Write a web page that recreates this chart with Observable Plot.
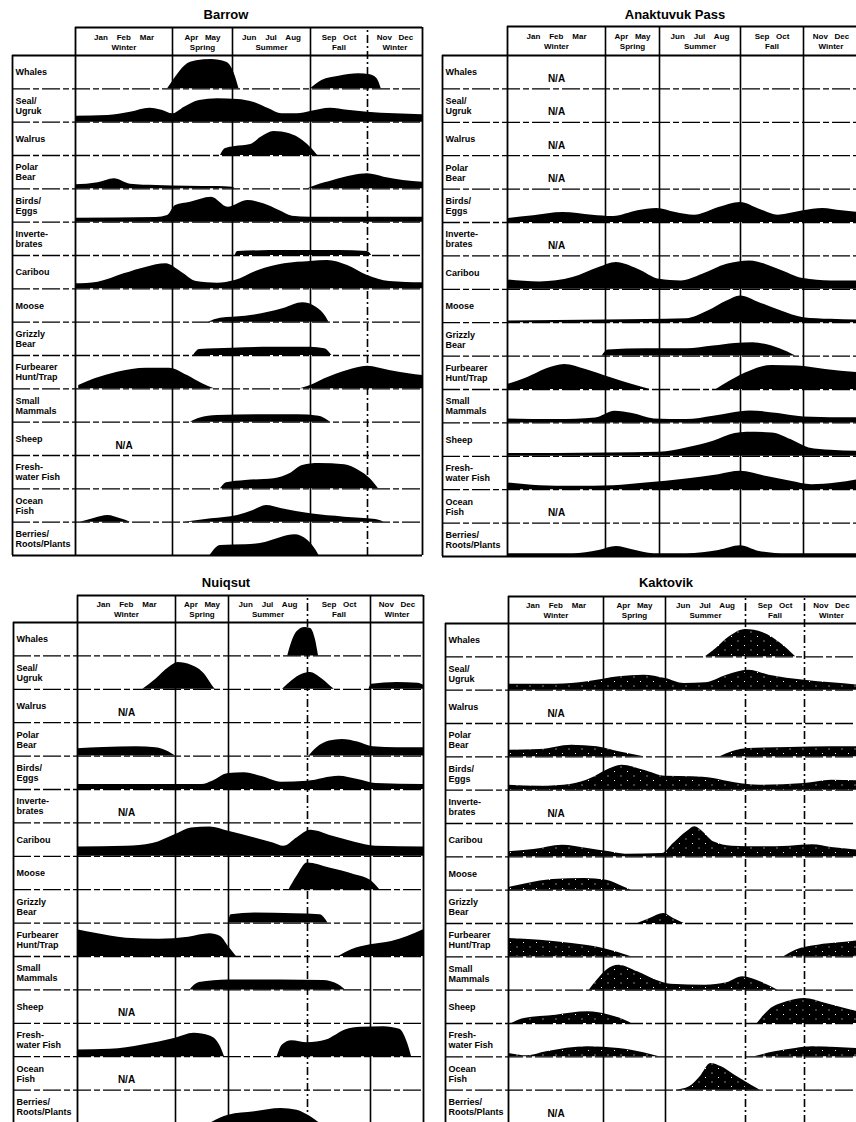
<!DOCTYPE html>
<html><head><meta charset="utf-8">
<script src="https://cdn.jsdelivr.net/npm/d3@7"></script>
<script src="https://cdn.jsdelivr.net/npm/@observablehq/plot@0.6"></script>
<style>
body{margin:0;background:#fff;width:856px;height:1122px;overflow:hidden;position:relative;font-family:"Liberation Sans",Arial,sans-serif;color:#000}
.panel{position:absolute}
.panel svg{overflow:visible}
.title{position:absolute;font-weight:bold;font-size:13px;line-height:14px;transform:translateX(-50%);white-space:nowrap}
</style></head><body>
<svg width="0" height="0" style="position:absolute"><defs>
<pattern id="stip" width="13" height="9" patternUnits="userSpaceOnUse"><rect width="13" height="9" fill="#000"/><rect x="2" y="1" width="1" height="1" fill="#fff"/><rect x="8.5" y="5.5" width="1" height="1" fill="#fff"/></pattern>
</defs></svg>
<script>
const labels = ["Whales","Seal/\nUgruk","Walrus","Polar\nBear","Birds/\nEggs","Inverte-\nbrates","Caribou","Moose","Grizzly\nBear","Furbearer\nHunt/Trap","Small\nMammals","Sheep","Fresh-\nwater Fish","Ocean\nFish","Berries/\nRoots/Plants"];
const seasonStart = [0,3,5,8,10];
const seasonEnd = [3,5,8,10,12];
const seasonMonths = ["Jan    Feb    Mar","Apr   May","Jun    Jul    Aug","Sep   Oct","Nov   Dec"];
const seasonNames = ["Winter","Spring","Summer","Fall","Winter"];
const panelTitles = ["Barrow","Anaktuvuk Pass","Nuiqsut","Kaktovik"];

// profiles: [month, relative intensity]; null = break; null row = N/A
const barrow = [
 [[2.85,0],[3.1,0.35],[3.4,0.68],[3.8,0.84],[4.3,0.88],[4.8,0.8],[5.05,0.5],[5.25,0],null,[8.0,0],[8.4,0.25],[9,0.38],[9.7,0.45],[10.1,0.42],[10.35,0.3],[10.5,0]],
 [[0,0.18],[1,0.2],[1.7,0.3],[2.3,0.42],[2.7,0.35],[3.0,0.25],[3.4,0.45],[3.9,0.65],[4.5,0.7],[5.2,0.68],[5.8,0.6],[6.4,0.4],[6.9,0.25],[7.5,0.25],[8.0,0.32],[8.7,0.42],[9.3,0.36],[10,0.3],[11,0.25],[12,0.22]],
 [[4.6,0],[4.75,0.2],[5.1,0.27],[5.7,0.33],[6.1,0.55],[6.6,0.72],[7.2,0.65],[7.7,0.45],[8.05,0.2],[8.25,0]],
 [[0,0.12],[0.7,0.18],[1.2,0.3],[1.7,0.14],[2.5,0.1],[3.5,0.08],[4.5,0.07],[5.0,0.05],[5.1,0],null,[7.9,0],[8.2,0.1],[8.8,0.25],[9.5,0.4],[10,0.45],[10.6,0.35],[11.3,0.25],[12,0.2]],
 [[0,0.12],[2.5,0.14],[2.85,0.2],[3.1,0.5],[3.6,0.6],[4.3,0.75],[4.85,0.45],[5.6,0.65],[6.2,0.55],[6.8,0.35],[7.3,0.18],[8,0.15],[12,0.15]],
 [[5.1,0],[5.2,0.12],[7,0.15],[9,0.15],[10,0.12],[10.15,0]],
 [[0,0.15],[0.7,0.2],[1.5,0.45],[2.2,0.65],[2.8,0.75],[3.3,0.5],[3.8,0.22],[4.5,0.17],[5.1,0.25],[6,0.55],[7,0.75],[8,0.82],[8.6,0.85],[9.3,0.7],[10,0.4],[10.8,0.22],[12,0.18]],
 [[4.2,0],[4.6,0.12],[5.5,0.18],[6.3,0.28],[7,0.42],[7.7,0.58],[8.2,0.45],[8.55,0.15],[8.65,0]],
 [[3.7,0],[3.9,0.18],[5,0.22],[6.5,0.25],[8,0.25],[8.5,0.2],[8.75,0]],
 [[0.1,0.1],[0.6,0.3],[1.3,0.5],[2.2,0.62],[2.9,0.62],[3.5,0.4],[4.0,0.15],[4.4,0],null,[7.6,0],[8.0,0.1],[8.5,0.3],[9.3,0.55],[10,0.68],[10.8,0.55],[11.5,0.45],[12,0.4]],
 [[3.6,0],[3.9,0.12],[4.5,0.2],[6,0.22],[7.5,0.22],[8.3,0.18],[8.7,0]],
 null,
 [[4.6,0],[4.8,0.18],[5.5,0.25],[6.6,0.3],[7.2,0.45],[7.7,0.7],[8.3,0.76],[9.2,0.72],[9.7,0.55],[10.1,0.3],[10.4,0]],
 [[0.15,0],[0.6,0.12],[1.0,0.2],[1.4,0.1],[1.7,0],null,[3.4,0],[4.3,0.1],[5.2,0.2],[5.8,0.35],[6.3,0.5],[6.9,0.4],[8,0.25],[9.2,0.15],[10.3,0.08],[10.6,0]],
 [[4.25,0],[4.6,0.3],[5.5,0.32],[6.3,0.4],[6.9,0.55],[7.4,0.62],[7.9,0.45],[8.2,0.15],[8.3,0]]
];
const anaktuvuk = [
 null, null, null, null,
 [[0,0.12],[0.8,0.2],[1.7,0.3],[2.6,0.22],[3.3,0.18],[4.2,0.35],[4.9,0.42],[5.6,0.3],[6.3,0.22],[7.2,0.45],[8,0.6],[8.6,0.4],[9.2,0.22],[10,0.35],[10.7,0.42],[11.4,0.35],[12,0.3]],
 null,
 [[0,0.28],[1,0.22],[2,0.35],[2.8,0.65],[3.4,0.8],[4.2,0.6],[5,0.3],[5.8,0.25],[6.6,0.45],[7.5,0.75],[8.3,0.85],[9.2,0.6],[10,0.32],[11,0.25],[12,0.25]],
 [[0,0.05],[3,0.08],[6,0.12],[6.8,0.35],[7.5,0.65],[8,0.8],[8.6,0.6],[9.3,0.35],[10,0.15],[11,0.1],[12,0.08]],
 [[2.9,0],[3.1,0.18],[4.5,0.22],[6,0.22],[7,0.3],[7.8,0.38],[8.4,0.4],[9,0.3],[9.5,0.12],[9.75,0]],
 [[0,0.15],[0.6,0.35],[1.2,0.62],[1.75,0.75],[2.4,0.6],[3.2,0.35],[4,0.15],[4.65,0],null,[7.1,0],[7.6,0.25],[8.3,0.55],[9,0.72],[9.8,0.7],[10.8,0.6],[12,0.5]],
 [[0,0.12],[1.5,0.1],[2.7,0.15],[3.35,0.35],[4,0.28],[4.8,0.12],[6,0.1],[7,0.2],[7.7,0.3],[8.3,0.36],[9.2,0.28],[10,0.18],[12,0.15]],
 [[0,0.08],[3,0.1],[5,0.12],[6,0.25],[7,0.45],[7.8,0.68],[8.2,0.72],[9,0.7],[9.6,0.5],[10.2,0.25],[11,0.18],[12,0.15]],
 [[0,0.2],[1,0.12],[2,0.1],[3.3,0.12],[4.5,0.2],[6,0.32],[7.2,0.45],[8,0.55],[8.8,0.4],[9.6,0.25],[10.3,0.15],[11.2,0.2],[12,0.3]],
 null,
 [[0,0.08],[2,0.08],[2.8,0.18],[3.4,0.3],[4,0.2],[4.8,0.08],[6,0.08],[7.2,0.18],[8,0.32],[8.6,0.15],[9.5,0.08],[12,0.08]]
];
const nuiqsut = [
 [[7.25,0],[7.4,0.4],[7.6,0.72],[7.9,0.85],[8.1,0.82],[8.25,0.5],[8.35,0]],
 [[2.0,0],[2.4,0.3],[2.8,0.65],[3.1,0.8],[3.6,0.72],[4.1,0.45],[4.4,0.1],[4.5,0],null,[7.05,0],[7.4,0.25],[7.8,0.45],[8.1,0.5],[8.4,0.35],[8.75,0.08],[8.85,0],null,[9.95,0],[10.05,0.15],[11,0.2],[11.8,0.18],[12,0.12]],
 null,
 [[0,0.22],[0.8,0.26],[1.8,0.28],[2.4,0.25],[2.8,0.12],[3.0,0],null,[8.05,0],[8.3,0.25],[8.7,0.45],[9.1,0.5],[9.6,0.42],[10.1,0.28],[11,0.25],[12,0.25]],
 [[0,0.15],[4,0.15],[4.4,0.25],[5,0.48],[5.6,0.5],[6.3,0.38],[7,0.22],[8,0.25],[9,0.4],[9.6,0.3],[10.2,0.18],[12,0.15]],
 null,
 [[0,0.28],[1.5,0.3],[2.3,0.38],[3,0.65],[3.6,0.85],[4.3,0.88],[5,0.75],[6,0.55],[6.7,0.4],[7.1,0.3],[7.6,0.55],[8.1,0.78],[8.8,0.6],[9.5,0.42],[10.2,0.3],[12,0.28]],
 [[7.3,0],[7.6,0.4],[8.0,0.8],[8.7,0.65],[9.5,0.45],[10,0.28],[10.35,0]],
 [[5.0,0],[5.1,0.25],[6,0.3],[7.5,0.28],[8.4,0.25],[8.65,0]],
 [[0,0.8],[0.5,0.7],[1.5,0.55],[2.5,0.52],[3.5,0.58],[4.3,0.68],[4.7,0.6],[5.0,0.3],[5.3,0],null,[9.0,0],[9.4,0.2],[10,0.35],[10.8,0.45],[11.4,0.6],[12,0.8]],
 [[3.55,0],[3.9,0.22],[5,0.3],[7,0.3],[8.5,0.28],[9.0,0.15],[9.2,0]],
 null,
 [[0,0.2],[1,0.22],[2,0.35],[3,0.55],[3.7,0.7],[4.3,0.62],[4.7,0.3],[4.85,0],null,[6.85,0],[7.05,0.35],[7.4,0.48],[8,0.42],[8.6,0.5],[9.2,0.8],[9.7,0.88],[10.5,0.9],[11.1,0.82],[11.4,0.4],[11.55,0]],
 null,
 [[4.3,0],[5,0.25],[6,0.35],[7,0.45],[7.6,0.4],[8.1,0.2],[8.4,0]]
];
const kaktovik = [
 [[6.5,0],[6.9,0.25],[7.4,0.6],[8.0,0.82],[8.6,0.72],[9.2,0.4],[9.7,0]],
 [[0,0.18],[1.5,0.18],[2.5,0.25],[3.5,0.4],[4.3,0.45],[5,0.35],[5.7,0.2],[6.5,0.22],[7.3,0.45],[8.1,0.6],[8.8,0.45],[10,0.3],[11,0.22],[12,0.15]],
 null,
 [[0,0.2],[1,0.22],[2,0.35],[2.8,0.3],[3.5,0.15],[4.3,0],null,[7.05,0],[7.5,0.15],[8.1,0.25],[9.5,0.28],[11,0.3],[12,0.3]],
 [[0,0.15],[1,0.12],[2,0.18],[2.6,0.35],[3.1,0.6],[3.6,0.75],[4.3,0.6],[5,0.42],[6,0.4],[6.8,0.35],[7.6,0.22],[8.5,0.15],[10,0.2],[11,0.3],[12,0.28]],
 null,
 [[0,0.15],[0.8,0.22],[1.7,0.35],[2.5,0.25],[3.2,0.15],[3.7,0.08],[4.9,0.1],[5.3,0.4],[5.8,0.75],[6.1,0.9],[6.4,0.75],[6.8,0.45],[7.5,0.32],[8.5,0.3],[9.5,0.32],[10.3,0.36],[11,0.28],[12,0.2]],
 [[0,0.08],[0.6,0.2],[1.4,0.32],[2.4,0.35],[3.1,0.3],[3.6,0.12],[3.9,0]],
 [[4.1,0],[4.5,0.15],[4.95,0.3],[5.3,0.15],[5.7,0]],
 [[0,0.55],[1,0.5],[2,0.4],[3,0.25],[3.5,0.12],[3.9,0],null,[9.3,0],[9.7,0.2],[10.5,0.35],[11.3,0.42],[12,0.48]],
 [[2.55,0],[2.8,0.3],[3.1,0.6],[3.5,0.75],[4.1,0.55],[4.7,0.3],[5.2,0.18],[6.5,0.15],[7.3,0.22],[7.9,0.4],[8.5,0.25],[9.1,0]],
 [[0.1,0],[0.5,0.15],[1.5,0.25],[2.5,0.35],[3.2,0.25],[3.8,0.05],[3.9,0],null,[8.4,0],[8.8,0.4],[9.4,0.65],[10,0.75],[10.8,0.6],[11.5,0.45],[12,0.35]],
 [[0,0.1],[0.6,0.03],[1.2,0.15],[2.5,0.3],[3.5,0.25],[4.3,0.12],[4.8,0],null,[8.3,0],[9,0.15],[9.7,0.25],[10.3,0.3],[11.2,0.28],[12,0.25]],
 [[5.4,0],[5.9,0.1],[6.3,0.4],[6.7,0.8],[7.1,0.7],[7.6,0.45],[8.2,0.15],[8.5,0]],
 null
];

// layout (page pixels)
const layouts = [
 {left:0, top:20, width:430, height:540, xr:[12,75,172,232,310,367,422], headerTop:27, rowsTop:55, rowsBottom:555, titleX:226, titleY:15, dashed:[10], fill:"#000"},
 {left:430, top:20, width:426, height:540, xr:[442,507,605,659,740,803,858], headerTop:26, rowsTop:55, rowsBottom:556, titleX:675, titleY:15, dashed:[], fill:"#000"},
 {left:0, top:590, width:430, height:535, xr:[13,77,175,228,307,370,423], headerTop:595, rowsTop:622, rowsBottom:1123, titleX:226, titleY:583, dashed:[8], fill:"#000"},
 {left:430, top:590, width:426, height:535, xr:[445,508,603,665,745,804,858], headerTop:596, rowsTop:623, rowsBottom:1123, titleX:666, titleY:583, dashed:[8,10], fill:"url(#stip)"}
];
const allProfiles = [barrow, anaktuvuk, nuiqsut, kaktovik];

function drawPanel(cfg, profiles, title) {
  const rowH = (cfg.rowsBottom - cfg.rowsTop) / 15;
  const hdr = (cfg.rowsTop - cfg.headerTop) / rowH;
  const topY = 15 + hdr;
  const xr = cfg.xr.map(v => v - cfg.left);
  const yr = [cfg.rowsBottom - cfg.top, cfg.headerTop - cfg.top];
  const areaData = [], naData = [];
  profiles.forEach((prof, r) => {
    const base = 14 - r;
    if (!prof) { naData.push({base}); return; }
    let seg = 0;
    for (const p of prof) {
      if (p === null) { seg++; continue; }
      areaData.push({t: p[0], y1: base, y2: base + p[1], key: r + "-" + seg});
    }
  });
  const rows = labels.map((label, r) => ({label, mid: 14 - r + 0.5}));
  const seasons = seasonStart.map((s, i) => ({mid: (s + seasonEnd[i]) / 2, months: seasonMonths[i], name: seasonNames[i]}));
  const solidDiv = [3,5,8,10].filter(d => !cfg.dashed.includes(d));
  const dashDiv = [3,5,8,10].filter(d => cfg.dashed.includes(d));
  const plot = Plot.plot({
    width: cfg.width, height: cfg.height, margin: 0,
    x: {type: "linear", domain: [-1,0,3,5,8,10,12], range: xr, axis: null},
    y: {type: "linear", domain: [0, topY], range: yr, axis: null},
    style: {background: "transparent", fontFamily: "'Liberation Sans', Arial, sans-serif", color: "#000", overflow: "visible"},
    marks: [
      Plot.areaY(areaData, {x: "t", y1: "y1", y2: "y2", z: "key", fill: cfg.fill, curve: "monotone-x"}),
      Plot.ruleY(d3.range(1, 15), {y: d => d, x1: () => -1, x2: () => 12, stroke: "#000", strokeWidth: 1.3, strokeDasharray: "18,3,6,3"}),
      Plot.ruleY([0, 15], {y: d => d, x1: () => -1, x2: () => 12, stroke: "#000", strokeWidth: 1.8}),
      Plot.ruleY([topY], {y: d => d, x1: () => 0, x2: () => 12, stroke: "#000", strokeWidth: 1.8}),
      Plot.ruleX([-1], {x: d => d, y1: () => 0, y2: () => 15, stroke: "#000", strokeWidth: 1.8}),
      Plot.ruleX([0, 12], {x: d => d, y1: () => 0, y2: () => topY, stroke: "#000", strokeWidth: 1.8}),
      Plot.ruleX(solidDiv, {x: d => d, y1: () => 0, y2: () => topY, stroke: "#000", strokeWidth: 1.6}),
      Plot.ruleX(dashDiv, {x: d => d, y1: () => 0, y2: () => topY, stroke: "#000", strokeWidth: 1.6, strokeDasharray: "8,3,2,3"}),
      Plot.text(rows, {x: () => -1, y: "mid", text: "label", textAnchor: "start", dx: 3, fontSize: 9, fontWeight: "bold", lineHeight: 1.1, fill: "#000"}),
      Plot.text(seasons, {x: "mid", y: () => 15 + hdr * 0.66, text: "months", fontSize: 8, fontWeight: "bold", fill: "#000"}),
      Plot.text(seasons, {x: "mid", y: () => 15 + hdr * 0.3, text: "name", fontSize: 8, fontWeight: "bold", fill: "#000"}),
      Plot.text(naData, {x: () => 1.5, y: d => d.base + 0.3, text: () => "N/A", fontSize: 10, fontWeight: "bold", fill: "#000"})
    ]
  });
  const wrap = document.createElement("div");
  wrap.className = "panel";
  wrap.style.left = cfg.left + "px";
  wrap.style.top = cfg.top + "px";
  wrap.appendChild(plot);
  document.body.appendChild(wrap);
  const t = document.createElement("div");
  t.className = "title";
  t.textContent = title;
  t.style.left = cfg.titleX + "px";
  t.style.top = (cfg.titleY - 7) + "px";
  document.body.appendChild(t);
}
layouts.forEach((cfg, i) => drawPanel(cfg, allProfiles[i], panelTitles[i]));
</script>
</body></html>
